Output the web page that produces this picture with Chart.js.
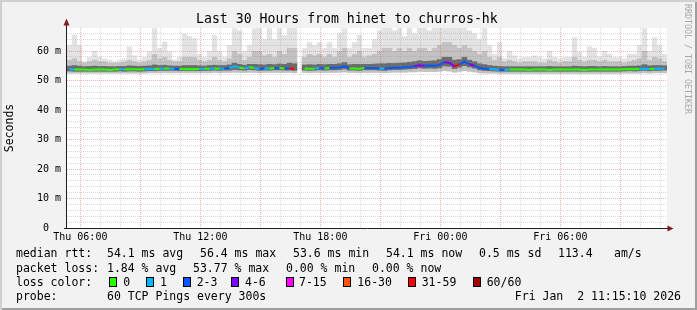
<!DOCTYPE html>
<html><head><meta charset="utf-8">
<script src="https://cdn.jsdelivr.net/npm/chart.js@4.4.1/dist/chart.umd.min.js"></script>
<style>
html,body{margin:0;padding:0;background:#f2f2f2;}
#wrap{position:relative;width:697px;height:310px;background:#f2f2f2;box-shadow:inset 2px 2px 0 #cfcfcf, inset -2px -2px 0 #9e9e9e;overflow:hidden;font-family:'DejaVu Sans Mono',monospace;color:#000;}
canvas{position:absolute;left:0;top:0;}
.t{position:absolute;white-space:pre;font-size:11.5px;line-height:14px;}
.box{position:absolute;width:6px;height:8px;border:1px solid #000;}
#title{position:absolute;left:196px;top:11px;font-size:13.2px;line-height:16px;white-space:pre;}
#credit{position:absolute;left:683px;top:4px;width:10px;writing-mode:vertical-rl;font-size:8.3px;line-height:10px;color:#a8a8a8;white-space:pre;}
</style></head>
<body><div id="wrap">
<canvas id="c" width="697" height="310"></canvas>
<div id="title">Last 30 Hours from hinet to churros-hk</div>
<div id="credit">RRDTOOL / TOBI OETIKER</div>
<div class="t" style="left:16px;top:246px">median rtt:</div>
<div class="t" style="left:107px;top:246px">54.1 ms avg</div>
<div class="t" style="left:200px;top:246px">56.4 ms max</div>
<div class="t" style="left:293px;top:246px">53.6 ms min</div>
<div class="t" style="left:386px;top:246px">54.1 ms now</div>
<div class="t" style="left:479px;top:246px">0.5 ms sd</div>
<div class="t" style="left:558px;top:246px">113.4</div>
<div class="t" style="left:614px;top:246px">am/s</div>
<div class="t" style="left:16px;top:260.5px">packet loss:</div>
<div class="t" style="left:107px;top:260.5px">1.84 % avg</div>
<div class="t" style="left:193px;top:260.5px">53.77 % max</div>
<div class="t" style="left:286px;top:260.5px">0.00 % min</div>
<div class="t" style="left:372px;top:260.5px">0.00 % now</div>
<div class="t" style="left:16px;top:274.5px">loss color:</div>
<div id="lossLegend"></div>
<div class="t" style="left:16px;top:288.5px">probe:</div>
<div class="t" style="left:107px;top:288.5px">60 TCP Pings every 300s</div>
<div class="t" style="right:16px;top:288.5px">Fri Jan  2 11:15:10 2026</div>
</div>
<script>
// ---- time axis (hours since Thu 00:00) ----
const X_MIN = 5 + 20 / 60;   // Thu 05:20
const X_MAX = 35 + 20 / 60;  // Fri 11:20
const STEP = 0.25;           // one column = 15 minutes
const X_LABEL_HOURS = [6, 12, 18, 24, 30];
const DAY_NAMES = ['Thu', 'Fri'];
const Y_MAX = 67.8;
const Y_LABEL_VALUES = [0, 10, 20, 30, 40, 50, 60];

// ---- median RTT (ms) ----
const median = [
  53.8,53.7,53.7,53.7,53.6,53.7,53.7,53.7,53.6,53.7,
  53.8,53.7,53.8,53.8,53.7,53.8,53.9,53.9,54.0,54.1,
  54.0,54.0,53.9,53.8,53.9,53.8,53.9,54.0,54.0,54.1,
  54.0,54.1,54.2,54.9,54.3,54.1,54.6,54.2,54.0,54.1,
  54.1,54.2,54.2,54.1,54.1,54.0,null,54.1,54.0,54.1,
  54.2,54.1,54.2,54.3,54.4,54.8,54.1,54.1,54.0,54.2,
  54.2,54.2,54.1,54.0,54.2,54.3,54.3,54.5,54.6,54.8,
  55.2,55.0,55.1,55.0,55.3,56.2,56.0,54.8,55.5,56.4,
  55.5,55.0,54.2,54.0,53.9,53.8,53.6,53.6,53.7,53.7,
  53.7,53.7,53.6,53.7,53.7,53.7,53.6,53.7,53.7,53.7,
  53.7,53.7,53.7,53.6,53.7,53.7,53.7,53.7,53.7,53.7,
  53.7,53.8,53.9,53.8,53.9,54.0,53.9,54.0,54.0,54.1
];
// ---- lost pings (of 60) ----
const lossPings = [
  1,0,0,0,0,0,0,0,0,0,
  1,0,0,0,0,1,1,0,1,0,
  1,2,0,0,0,0,1,0,1,0,
  1,2,1,1,0,1,0,1,2,1,
  0,2,0,2,33,2,0,0,0,1,
  2,0,2,2,2,2,0,0,0,2,
  2,2,1,2,2,2,2,2,2,5,
  5,2,2,2,2,5,5,33,2,2,
  5,2,2,2,1,1,2,1,0,0,
  0,0,0,0,0,0,0,0,0,0,
  0,0,0,0,0,0,0,0,0,0,
  0,0,0,0,1,1,0,1,1,0
];
// ---- smoke: ping distribution (ms) ----
const pingMin = [
  52.4,52.4,52.4,52.4,52.4,52.4,52.4,52.4,52.4,52.4,
  52.4,52.4,52.4,52.4,52.4,52.4,52.5,52.5,52.5,52.5,
  52.5,52.5,52.5,52.5,52.5,52.5,52.5,52.5,52.5,52.6,
  52.5,52.6,52.6,52.7,52.6,52.6,52.7,52.6,52.5,52.6,
  52.6,52.6,52.6,52.6,52.6,52.5,null,52.6,52.5,52.6,
  52.6,52.6,52.6,52.6,52.7,52.8,52.6,52.6,52.5,52.6,
  52.6,52.6,52.6,52.5,52.6,52.7,52.7,52.7,52.8,52.8,
  53.0,52.9,52.9,52.9,53.0,53.2,53.1,52.7,53.0,53.2,
  53.0,52.8,52.5,52.4,52.4,52.4,52.3,52.3,52.3,52.3,
  52.3,52.3,52.3,52.3,52.3,52.3,52.3,52.3,52.3,52.3,
  52.3,52.3,52.3,52.3,52.3,52.3,52.3,52.3,52.3,52.3,
  52.3,52.4,52.4,52.4,52.4,52.5,52.4,52.5,52.5,52.5
];
const pingP25 = [
  53.1,53.0,53.0,53.0,53.0,53.0,53.0,53.0,53.0,53.0,
  53.1,53.0,53.1,53.1,53.0,53.1,53.2,53.2,53.3,53.3,
  53.3,53.3,53.2,53.2,53.2,53.2,53.2,53.3,53.3,53.4,
  53.3,53.4,53.4,53.6,53.5,53.4,53.6,53.5,53.3,53.4,
  53.4,53.5,53.5,53.4,53.4,53.3,null,53.4,53.3,53.4,
  53.5,53.4,53.5,53.5,53.6,53.8,53.4,53.4,53.3,53.5,
  53.5,53.5,53.4,53.3,53.5,53.6,53.6,53.7,53.8,53.9,
  54.2,54.0,54.1,54.0,54.2,54.8,54.7,53.9,54.4,54.9,
  54.5,54.1,53.5,53.3,53.2,53.1,53.0,53.0,53.0,53.0,
  53.0,53.0,53.0,53.0,53.0,53.0,53.0,53.0,53.0,53.0,
  53.0,53.0,53.0,53.0,53.0,53.0,53.0,53.0,53.0,53.0,
  53.0,53.1,53.2,53.1,53.2,53.3,53.2,53.3,53.3,53.4
];
const pingP75 = [
  55.0,55.2,55.0,54.8,54.9,55.0,54.9,54.9,54.8,54.8,
  54.9,54.9,55.1,55.0,54.9,55.0,55.1,55.4,55.2,55.3,
  55.1,55.0,55.0,55.2,55.2,55.2,55.1,55.0,55.2,55.3,
  55.2,55.2,55.4,56.0,55.6,55.3,55.6,55.6,55.5,55.4,
  55.6,55.5,55.7,55.6,56.0,55.8,null,55.4,55.5,55.4,
  55.6,55.5,55.6,55.6,55.8,56.2,55.5,55.6,55.6,55.6,
  55.6,55.7,55.8,55.8,55.9,55.9,56.0,56.1,56.3,56.5,
  56.8,56.6,56.7,56.8,57.2,58.0,58.0,57.0,57.2,58.0,
  57.0,56.5,55.8,55.5,55.2,55.0,54.9,54.8,54.8,54.8,
  54.8,54.8,54.8,54.8,54.8,54.8,54.9,54.8,54.8,54.8,
  54.8,55.0,54.9,54.8,54.9,54.9,54.8,54.9,54.8,54.8,
  54.8,54.9,55.0,55.0,55.1,55.5,55.1,55.2,55.2,55.1
];
const pingP90 = [
  57.0,57.5,56.5,56.0,56.5,57.0,56.5,56.5,56.0,56.0,
  56.0,56.5,57.0,56.5,56.0,56.5,57.0,59.0,57.5,58.0,
  57.0,56.5,56.5,58.0,58.0,58.0,57.0,56.5,57.0,58.0,
  57.0,56.5,57.5,60.0,59.0,57.0,58.0,60.0,60.0,58.5,
  59.0,58.0,60.0,59.0,61.0,61.0,null,58.0,59.0,58.5,
  59.0,58.0,59.0,58.0,60.0,61.0,58.0,59.0,60.0,58.0,
  58.5,59.0,60.0,61.0,61.0,60.0,61.0,60.0,61.0,60.0,
  61.0,61.0,60.0,61.0,62.0,63.0,63.0,62.0,61.0,62.0,
  61.0,60.0,59.0,60.0,58.0,57.0,58.0,56.5,57.0,56.5,
  56.0,56.5,56.5,56.5,56.0,56.0,57.0,56.5,56.0,56.5,
  56.5,58.0,57.0,56.5,57.0,57.0,56.5,57.0,56.5,56.5,
  56.5,56.0,56.5,57.0,57.5,60.0,57.0,58.0,57.5,56.5
];
const pingMax = [
  62.0,65.5,62.0,56.5,58.0,60.0,58.0,57.5,57.0,56.5,
  57.0,57.5,61.5,58.5,57.0,58.0,59.8,67.7,61.0,63.2,
  59.8,57.0,58.0,65.9,65.0,64.3,59.0,58.0,60.0,65.4,
  60.0,58.0,62.0,67.7,67.0,60.0,62.0,67.7,67.7,64.0,
  67.7,64.0,67.7,65.4,68.0,68.0,null,61.0,63.0,62.0,
  63.0,61.0,63.0,61.0,66.0,67.7,61.0,63.0,65.4,61.0,
  61.0,64.0,67.0,68.0,68.0,67.0,68.0,65.0,68.0,66.0,
  68.0,68.0,67.0,68.0,68.0,68.0,68.0,68.0,68.0,68.0,
  67.0,66.0,64.0,68.0,62.0,59.0,63.0,57.5,60.0,58.5,
  57.5,58.0,58.0,58.5,58.0,57.5,60.0,58.0,57.5,58.0,
  58.0,64.6,59.8,58.0,61.5,61.0,58.0,60.0,59.0,58.0,
  58.0,57.5,59.0,59.0,62.0,67.7,60.0,64.6,62.0,59.0
];

const LOSS_BINS = [
  { upTo: 0,  label: '0',     color: '#26ff00' },
  { upTo: 1,  label: '1',     color: '#00b8ff' },
  { upTo: 3,  label: '2-3',   color: '#0059ff' },
  { upTo: 6,  label: '4-6',   color: '#7e00ff' },
  { upTo: 15, label: '7-15',  color: '#ff00ff' },
  { upTo: 30, label: '16-30', color: '#ff5500' },
  { upTo: 59, label: '31-59', color: '#ff0000' },
  { upTo: 60, label: '60/60', color: '#a10000' }
];
function lossColor(n) {
  for (const b of LOSS_BINS) if (n <= b.upTo) return b.color;
  return LOSS_BINS[LOSS_BINS.length - 1].color;
}

// legend boxes (layout only)
const BOX_LEFT = [108.7, 145.7, 182.5, 231, 286, 343.3, 408, 473];
const LABEL_LEFT = [123.3, 160, 196.7, 245, 299, 357.3, 421.7, 486.7];
const legendEl = document.getElementById('lossLegend');
LOSS_BINS.forEach((b, i) => {
  const box = document.createElement('div');
  box.className = 'box';
  box.style.left = BOX_LEFT[i] + 'px';
  box.style.top = '277px';
  box.style.background = b.color;
  legendEl.appendChild(box);
  const t = document.createElement('div');
  t.className = 't';
  t.style.left = LABEL_LEFT[i] + 'px';
  t.style.top = '274.5px';
  t.textContent = b.label;
  legendEl.appendChild(t);
});

const xs = median.map((_, i) => X_MIN + STEP * (i + 0.5));
function band(lo, hi, color) {
  const data = [];
  lo.forEach((v, i) => { if (v != null && hi[i] != null) data.push({ x: xs[i], y: [v, hi[i]] }); });
  return { type: 'bar', data, backgroundColor: color, borderWidth: 0, barPercentage: 1.08,
           categoryPercentage: 1, grouped: false, order: 5 };
}
function pad2(n) { return (n < 10 ? '0' : '') + n; }
function hourLabel(v) {
  const d = Math.floor(v / 24);
  return DAY_NAMES[d] + ' ' + pad2(Math.round(v - d * 24)) + ':00';
}

const FONT = 'DejaVu Sans Mono';
const gridPlugin = {
  id: 'rrdGrid',
  beforeDraw(chart) {
    const { ctx, chartArea: a } = chart;
    ctx.save();
    ctx.fillStyle = '#ffffff';
    ctx.fillRect(a.left, a.top, a.right - a.left, a.bottom - a.top);
    ctx.restore();
  },
  beforeDatasetDraw(chart, args) {
    if (args.meta.type !== 'line') return;
    const { ctx, chartArea: a, scales: { x, y } } = chart;
    ctx.save();
    ctx.lineWidth = 1;
    ctx.setLineDash([1, 1]);
    for (let v = 2; v < Y_MAX; v += 2) {
      const py = Math.floor(y.getPixelForValue(v)) + 0.5;
      ctx.strokeStyle = v % 10 === 0 ? 'rgba(222,79,79,0.42)' : 'rgba(143,143,143,0.32)';
      ctx.beginPath(); ctx.moveTo(a.left, py); ctx.lineTo(a.right, py); ctx.stroke();
    }
    for (let h = Math.ceil(X_MIN); h <= X_MAX; h++) {
      const px = Math.floor(x.getPixelForValue(h)) + 0.5;
      ctx.strokeStyle = h % 3 === 0 ? 'rgba(222,79,79,0.42)' : 'rgba(143,143,143,0.32)';
      ctx.beginPath(); ctx.moveTo(px, a.top); ctx.lineTo(px, a.bottom); ctx.stroke();
    }
    ctx.restore();
  },
  afterDraw(chart) {
    const { ctx, chartArea: a } = chart;
    ctx.save();
    ctx.strokeStyle = '#1f1f1f';
    ctx.lineWidth = 1;
    ctx.beginPath();
    ctx.moveTo(a.left - 0.5, a.bottom + 1); ctx.lineTo(a.left - 0.5, a.top - 6);
    ctx.moveTo(a.left - 3, a.bottom + 0.5); ctx.lineTo(a.right + 4, a.bottom + 0.5);
    ctx.stroke();
    ctx.fillStyle = '#801f1f';
    ctx.beginPath();
    ctx.moveTo(a.left - 0.5, a.top - 9.5); ctx.lineTo(a.left - 3.5, a.top - 2.5); ctx.lineTo(a.left + 2.5, a.top - 2.5);
    ctx.closePath(); ctx.fill();
    ctx.beginPath();
    ctx.moveTo(a.right + 6.5, a.bottom + 0.5); ctx.lineTo(a.right + 0.5, a.bottom - 2.5); ctx.lineTo(a.right + 0.5, a.bottom + 3.5);
    ctx.closePath(); ctx.fill();
    ctx.restore();
  }
};

new Chart(document.getElementById('c'), {
  data: {
    datasets: [
      {
        type: 'line',
        data: median.map((v, i) => ({ x: xs[i], y: v })),
        borderColor: '#26ff00',
        borderWidth: 2,
        pointRadius: 0,
        tension: 0,
        spanGaps: false,
        order: 0,
        segment: { borderColor: ctx => lossColor(lossPings[ctx.p0DataIndex]) }
      },
      band(pingP25, pingP75, '#6c6c6c'),
      band(pingMin, pingP90, '#c2c2c2'),
      band(pingMin, pingMax, '#e3e3e3')
    ]
  },
  options: {
    responsive: false,
    animation: false,
    devicePixelRatio: 1,
    layout: { padding: { left: 0, top: 28, right: 30, bottom: 62 } },
    plugins: { legend: { display: false }, tooltip: { enabled: false } },
    scales: {
      x: {
        type: 'linear', min: X_MIN, max: X_MAX, offset: false,
        grid: { display: false, drawTicks: false }, border: { display: false },
        afterBuildTicks: s => { s.ticks = X_LABEL_HOURS.map(v => ({ value: v })); },
        afterFit: s => { s.height = 20; },
        ticks: { autoSkip: false, maxRotation: 0, minRotation: 0, padding: 3, color: '#000',
                 font: { family: FONT, size: 10 }, callback: v => hourLabel(v) }
      },
      y: {
        type: 'linear', min: 0, max: Y_MAX,
        grid: { display: false, drawTicks: false }, border: { display: false },
        afterBuildTicks: s => { s.ticks = Y_LABEL_VALUES.map(v => ({ value: v })); },
        afterFit: s => { s.width = 67; },
        ticks: { padding: 6, color: '#000', font: { family: FONT, size: 10 },
                 callback: v => v === 0 ? '0  ' : v + ' m' },
        title: { display: true, text: 'Seconds', color: '#000', font: { family: FONT, size: 11.5 },
                 padding: { top: 3, bottom: 3 } }
      }
    }
  },
  plugins: [gridPlugin]
});
</script>
</body></html>
